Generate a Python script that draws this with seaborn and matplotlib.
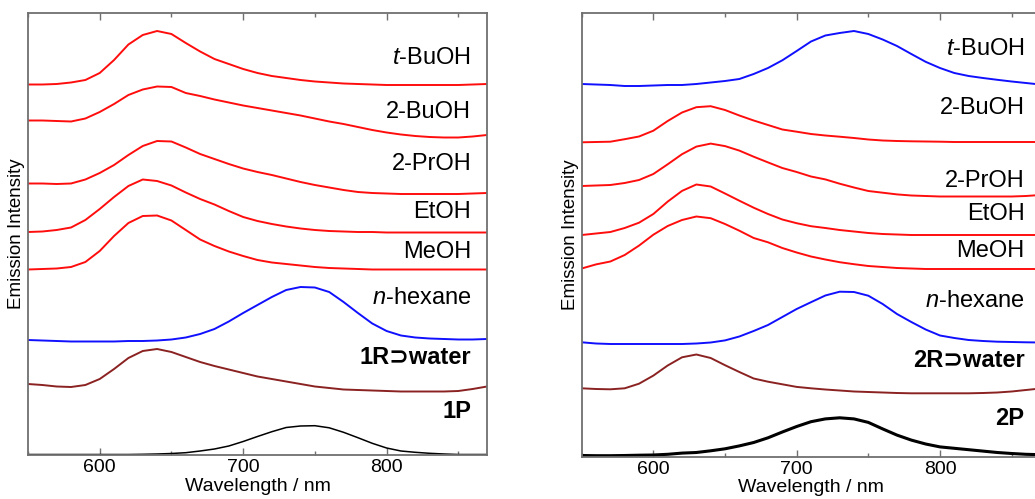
import numpy as np
import matplotlib
matplotlib.use('Agg')
import matplotlib.pyplot as plt
import seaborn as sns
from matplotlib.ticker import MultipleLocator

# wavelength grid (nm) shared by all spectra
wavelength = np.arange(550, 871, 10)

# left panel (1): stacked emission spectra, arbitrary units incl. offset
p1_tbuoh = [370.5, 370.5, 371, 372.5, 375, 382, 395, 410.5, 420, 424, 421, 412, 403.5, 396, 391, 386,
            382, 379, 377, 375, 373.5, 372.5, 371.5, 371, 370.5, 370, 370, 370, 370, 370, 370, 370.5, 371]
p1_2buoh = [334.5, 334.5, 334, 333.5, 336.5, 343, 351, 360, 365.5, 368.5, 368, 362, 359, 355.5, 352.5, 349.5,
            347, 344.5, 342, 339.5, 336.5, 333.5, 331, 328, 325, 322.5, 320.5, 319, 318, 317.5, 317.5, 318.5, 320]
p1_2proh = [271.5, 271.5, 271, 271.5, 275.5, 282, 290, 300, 309, 314, 313.5, 307.5, 301, 296, 291, 286.5,
            283, 280, 276.5, 273, 270, 267.5, 265, 263, 262, 261.5, 261, 261, 261, 261, 261, 261.5, 262]
p1_etoh = [223, 223.5, 225, 227.5, 235, 246, 258, 269, 275.5, 274, 269.5, 262.5, 256, 250.5, 244, 238,
           234, 231, 228.5, 226.5, 225, 224, 223.5, 223, 223, 222.5, 222.5, 222.5, 222.5, 222.5, 222.5, 222.5, 222.5]
p1_meoh = [185.5, 186, 186.5, 188, 193, 204, 219, 232, 239, 239.5, 234.5, 225, 215.5, 209, 203.5, 199,
           195, 192.5, 191, 189.5, 188, 187, 186.5, 186, 185.5, 185.5, 185.5, 185.5, 185.5, 185.5, 185.5, 185.5, 185.5]
p1_hexane = [115, 114.5, 114, 113.5, 113.5, 113.5, 113.5, 114, 114, 114.5, 115.5, 117.5, 121, 126, 133.5, 142,
             150, 158, 165, 168, 167.5, 163, 153, 142, 131.5, 124, 119.5, 117.5, 116.5, 116, 115.5, 115.5, 116]
p1_water = [71, 70, 68.5, 68, 70, 76, 86, 97, 104, 106, 103, 98, 93, 89, 85.5, 82,
            78.5, 76, 73.5, 71, 68.5, 67, 65.5, 65, 64.5, 64, 63.5, 63.5, 63.5, 63.5, 64, 66, 68.5]
p1_p = [0.5, 0.5, 0.5, 0.5, 0.5, 0.5, 0.5, 0.5, 0.7, 1, 1.5, 2.3, 4, 6, 9, 13.5,
        18.5, 23.3, 27.5, 29, 29.3, 27.2, 22.7, 17.3, 11.7, 7, 4, 2.7, 1.7, 1, 0.5, 0.5, 0.5]

# right panel (2)
p2_tbuoh = [372.7, 372.2, 371.7, 370.7, 370.7, 371.2, 371.7, 371.7, 372.7, 374.2, 375.7, 377.7, 382.7, 388.7, 396.4, 405.7,
            415.2, 421.2, 423.7, 425.7, 422.7, 417.2, 410.7, 402.7, 394.9, 388.7, 383.7, 380.7, 378.7, 376.9, 375.2, 373.7, 372.2]
p2_2buoh = [314.4, 314.7, 315, 317.5, 320.2, 326, 335.7, 344.2, 349.5, 350.5, 346.7, 341.2, 336.2, 331.7, 327.2, 325,
            322.7, 321.2, 320, 318.7, 317.2, 316.2, 315.7, 315.4, 315.2, 315, 314.7, 314.7, 314.7, 314.7, 314.7, 314.7, 314.7]
p2_2proh = [270.7, 271.2, 271.7, 273.7, 276.7, 282.7, 292.4, 302.5, 310.1, 313.1, 310.6, 306.1, 300, 294.3, 288.7, 284.7,
            280.2, 277.3, 273, 269.2, 265.7, 264, 262.3, 261.2, 260.7, 260.2, 260.2, 260.2, 260.2, 260.2, 260.2, 260.7, 261.7]
p2_etoh = [221.7, 223.2, 224.7, 228.7, 234, 242.7, 255.1, 265.8, 272.2, 270.2, 263.2, 256, 249, 242.7, 237.2, 233.5,
           230.5, 228.7, 226.7, 225.2, 223.7, 222.7, 222.2, 221.7, 221.7, 221.7, 221.7, 221.7, 221.7, 221.7, 221.7, 221.7, 221.7]
p2_meoh = [188.2, 192.3, 195.2, 201.7, 211.1, 222, 230.7, 236.7, 240.2, 238.5, 232.7, 226, 218.7, 214.4, 208.7, 204.2,
           200.2, 197.2, 194.5, 192.5, 190.7, 189.7, 188.7, 188.2, 187.7, 187.7, 187.7, 187.7, 187.7, 187.7, 187.7, 187.7, 187.7]
p2_hexane = [114.4, 113.2, 112.7, 112.7, 112.7, 112.7, 112.7, 112.7, 113.2, 114.2, 116.3, 120.2, 125.7, 131.7, 139.7, 147.7,
             154.5, 161.2, 165, 164.7, 161, 152.7, 142.7, 134.7, 127.2, 121.2, 118.7, 116.7, 115.7, 115, 114.7, 114.4, 114.2]
p2_water = [68.4, 67.7, 67.4, 68.4, 73, 81.1, 91.2, 99.4, 102.2, 98.7, 91.5, 84.7, 78.2, 75, 72.4, 69.8,
            68.4, 67.2, 66.2, 65.2, 64.7, 64.2, 63.7, 63.4, 63.4, 63.4, 63.4, 63.4, 63.7, 64.2, 65.2, 66.7, 68.2]
p2_p = [1.2, 1, 1, 1.2, 1.5, 1.7, 2.4, 3.6, 4.2, 5.9, 7.9, 10.8, 14.2, 18.9, 24.7, 30.2,
        35, 37.8, 38.9, 37.8, 34.3, 27.8, 21.6, 16.6, 12.7, 9.8, 8.4, 7, 5.6, 4.2, 3.2, 2.4, 2]

labels_1 = ['$\\it{t}$-BuOH', '2-BuOH', '2-PrOH', 'EtOH', 'MeOH', '$\\it{n}$-hexane', '1R\u2283water', '1P']
labels_2 = ['$\\it{t}$-BuOH', '2-BuOH', '2-PrOH', 'EtOH', 'MeOH', '$\\it{n}$-hexane', '2R\u2283water', '2P']
series_1 = [p1_tbuoh, p1_2buoh, p1_2proh, p1_etoh, p1_meoh, p1_hexane, p1_water, p1_p]
series_2 = [p2_tbuoh, p2_2buoh, p2_2proh, p2_etoh, p2_meoh, p2_hexane, p2_water, p2_p]

RED, BLUE, MAROON, BLACK = '#ff0d0d', '#1010ff', '#8b2222', '#000000'
colors_1 = [RED, RED, RED, RED, RED, BLUE, MAROON, BLACK]
colors_2 = [BLUE, RED, RED, RED, RED, BLUE, MAROON, BLACK]
widths_1 = [1.4] * 7 + [1.1]
widths_2 = [1.4] * 7 + [2.2]
# text baseline heights (data units)
label_y_1 = [391.5, 336.5, 284.8, 236.5, 196.5, 151.5, 91.5, 36.5]
label_y_2 = [401.5, 343.2, 270, 236.5, 200, 150, 90, 31.5]

sns.set_style('ticks')
plt.rcParams['font.family'] = ['Liberation Sans', 'DejaVu Sans']
plt.rcParams['text.color'] = 'black'
plt.rcParams['axes.labelcolor'] = 'black'
plt.rcParams['mathtext.fontset'] = 'custom'
plt.rcParams['mathtext.rm'] = 'Liberation Sans'
plt.rcParams['mathtext.it'] = 'Liberation Sans:italic'
plt.rcParams['mathtext.bf'] = 'Liberation Sans:bold'

fig = plt.figure(figsize=(10.35, 4.99), dpi=100)
fig.patch.set_facecolor('white')
ax1 = fig.add_axes([28 / 1035, 44 / 499, 459 / 1035, 442 / 499])
ax2 = fig.add_axes([581.7 / 1035, 42.3 / 499, 458.6 / 1035, 443.7 / 499])


def draw_panel(ax, series, labels, colors, widths, label_y, ytop):
    for vals, c, lw in zip(series, colors, widths):
        sns.lineplot(x=wavelength, y=vals, ax=ax, color=c, lw=lw)
    for lab, y in zip(labels, label_y):
        bold = ('water' in lab) or lab.endswith('P')
        ax.text(859, y, lab, ha='right', va='baseline', fontsize=17, color='black',
                fontweight='bold' if bold else 'normal')
    ax.set_xlim(550, 870)
    ax.set_ylim(0, ytop)
    ax.set_yticks([])
    ax.xaxis.set_major_locator(MultipleLocator(100))
    ax.xaxis.set_minor_locator(MultipleLocator(50))
    ax.tick_params(axis='x', which='both', direction='in', top=True, bottom=True,
                   colors='#707070', labelcolor='black', labelsize=14, pad=3)
    ax.tick_params(axis='x', which='major', length=5, width=1)
    ax.tick_params(axis='x', which='minor', length=3, width=1)
    for sp in ax.spines.values():
        sp.set_visible(True)
        sp.set_color('#707070')
        sp.set_linewidth(1.3)
    ax.set_xlabel('Wavelength / nm', fontsize=14, labelpad=1, color='black')
    ax.set_ylabel('Emission Intensity', fontsize=13.5, labelpad=2, color='black')


draw_panel(ax1, series_1, labels_1, colors_1, widths_1, label_y_1, 442)
draw_panel(ax2, series_2, labels_2, colors_2, widths_2, label_y_2, 443.7)

fig.savefig('out.png', dpi=100, facecolor='white')
